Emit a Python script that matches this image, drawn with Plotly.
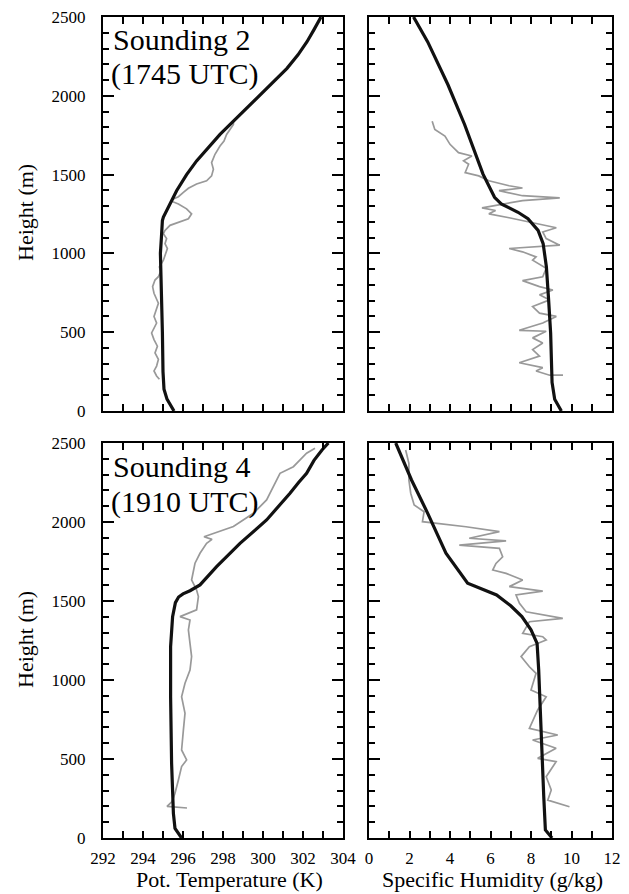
import plotly.graph_objects as go

W, H = 629, 894
OFF = 8               # page body margin of the html page
FW, FH = W - OFF, H - OFF
FONT = "Liberation Serif, Times New Roman, serif"

# ---------------- data ----------------
# Sounding 2 (top row)
s2_theta_model_h = [0, 40, 75, 138, 250, 500, 700, 850, 1000, 1100, 1209, 1230, 1300, 1398, 1500, 1587, 1755, 1860, 1965, 2070, 2174, 2260, 2343, 2420, 2500]
s2_theta_model = [295.55, 295.35, 295.2, 295.05, 295.0, 294.97, 294.92, 294.87, 294.87, 294.92, 294.97, 295.02, 295.3, 295.68, 296.18, 296.68, 297.85, 298.68, 299.5, 300.38, 301.2, 301.75, 302.2, 302.55, 302.9]

s2_theta_obs_h = [201, 222, 254, 285, 327, 369, 411, 453, 495, 516, 558, 600, 642, 684, 747, 789, 831, 852, 884, 915, 957, 989, 1031, 1062, 1094, 1125, 1146, 1178, 1199, 1220, 1251, 1283, 1314, 1331, 1345, 1360, 1387, 1413, 1440, 1461, 1492, 1534, 1576, 1629, 1681, 1713, 1755, 1786, 1818, 1843]
s2_theta_obs = [294.82, 294.68, 294.55, 294.68, 294.77, 294.60, 294.72, 294.55, 294.43, 294.52, 294.68, 294.55, 294.65, 294.77, 294.55, 294.48, 294.60, 294.77, 294.88, 294.82, 295.02, 295.10, 295.22, 295.10, 295.18, 295.02, 295.10, 295.35, 295.85, 296.27, 296.43, 296.18, 295.77, 295.43, 295.52, 295.77, 296.02, 296.27, 296.68, 297.18, 297.43, 297.52, 297.43, 297.60, 297.85, 298.05, 298.18, 298.35, 298.52, 298.52]

s2_q_model_h = [0, 75, 181, 495, 705, 915, 1062, 1146, 1220, 1261, 1314, 1356, 1503, 1650, 1818, 2070, 2342, 2500]
s2_q_model = [9.5, 9.17, 9.04, 8.97, 8.87, 8.76, 8.6, 8.35, 7.85, 7.36, 6.53, 6.2, 5.63, 5.21, 4.72, 3.9, 2.9, 2.2]

s2_q_obs_h = [1839, 1786, 1744, 1692, 1639, 1618, 1587, 1566, 1513, 1492, 1461, 1429, 1415, 1398, 1366, 1352, 1335, 1314, 1289, 1272, 1251, 1226, 1199, 1178, 1163, 1136, 1094, 1052, 1031, 1010, 978, 957, 905, 852, 827, 789, 768, 737, 705, 663, 621, 600, 558, 512, 506, 464, 432, 390, 348, 306, 275, 254, 227, 227]
s2_q_obs = [3.12, 3.25, 3.75, 4.0, 4.42, 5.08, 4.67, 4.92, 4.75, 5.42, 5.92, 6.92, 7.58, 6.42, 7.58, 9.42, 7.58, 6.75, 5.58, 6.25, 5.92, 6.92, 7.92, 8.58, 9.25, 8.58, 8.75, 9.42, 6.92, 7.58, 8.25, 8.08, 8.75, 8.58, 7.58, 8.42, 9.08, 8.42, 8.92, 8.08, 8.42, 9.25, 8.58, 7.42, 8.75, 8.08, 8.58, 8.08, 8.42, 7.42, 8.58, 8.25, 8.92, 9.58]

# Sounding 4 (bottom row)
s4_theta_model_h = [0, 61, 156, 473, 894, 1211, 1401, 1490, 1525, 1545, 1565, 1602, 1717, 1865, 2013, 2100, 2182, 2250, 2308, 2390, 2456, 2500]
s4_theta_model = [295.93, 295.6, 295.52, 295.43, 295.38, 295.38, 295.48, 295.62, 295.78, 296.0, 296.35, 296.85, 297.68, 298.85, 300.18, 300.8, 301.35, 301.78, 302.18, 302.55, 302.95, 303.27]

s4_theta_obs_h = [190, 200, 230, 283, 367, 452, 494, 557, 684, 789, 894, 979, 1063, 1148, 1232, 1317, 1380, 1401, 1444, 1528, 1570, 1633, 1739, 1802, 1865, 1890, 1907, 1928, 1971, 2055, 2140, 2308, 2350, 2435, 2467]
s4_theta_obs = [296.2, 295.2, 295.45, 295.6, 295.77, 295.93, 296.18, 295.93, 296.02, 296.1, 295.93, 296.1, 296.35, 296.43, 296.35, 296.27, 296.35, 295.85, 296.68, 296.77, 296.68, 296.43, 296.6, 296.85, 297.18, 297.45, 297.05, 297.52, 298.52, 299.52, 300.18, 300.85, 301.52, 302.18, 302.6]

s4_q_model_h = [0, 51, 261, 684, 1063, 1232, 1317, 1401, 1470, 1538, 1612, 1802, 2055, 2266, 2500]
s4_q_model = [9.04, 8.71, 8.63, 8.51, 8.38, 8.3, 8.0, 7.55, 7.0, 6.3, 4.87, 3.8, 2.9, 2.1, 1.32]

s4_q_obs_h = [2456, 2371, 2266, 2182, 2108, 2065, 2002, 1992, 1970, 1939, 1897, 1880, 1854, 1833, 1780, 1738, 1696, 1675, 1633, 1591, 1563, 1538, 1485, 1432, 1390, 1369, 1295, 1274, 1253, 1211, 1148, 1084, 1042, 937, 894, 810, 694, 652, 620, 568, 504, 483, 388, 304, 240, 198]
s4_q_obs = [1.81, 1.97, 1.97, 2.06, 2.23, 2.72, 2.64, 3.30, 4.79, 6.44, 4.95, 6.77, 4.46, 6.44, 6.60, 6.27, 6.11, 6.77, 7.59, 6.93, 8.58, 7.26, 7.43, 7.76, 9.57, 7.92, 7.59, 8.58, 8.75, 7.92, 7.51, 7.92, 8.25, 8.0, 8.75, 8.33, 7.92, 9.32, 8.08, 9.24, 8.33, 9.24, 8.75, 9.0, 8.83, 9.90]

theta_ticks = [292, 294, 296, 298, 300, 302, 304]
q_ticks = [0, 2, 4, 6, 8, 10, 12]
h_ticks = [0, 500, 1000, 1500, 2000, 2500]

labels = [("Sounding 2", "(1745 UTC)"), ("Sounding 4", "(1910 UTC)")]
xtitles = ["Pot. Temperature (K)", "Specific Humidity (g/kg)"]
ytitle = "Height (m)"

# ---------------- layout helpers (page pixel -> paper fraction) ----------------
def px(x):
    return (x - OFF) / FW

def py(y):
    return 1 - (y - OFF) / FH

LEFT_X = [px(103), px(343)]
RIGHT_X = [px(369), px(612)]
TOP_Y = [py(411), py(17)]
BOT_Y = [py(838), py(443)]

OBS_COLOR = "#999999"
MOD_COLOR = "#111111"

fig = go.Figure()

panels = [
    ("x", "y", s4_theta_obs, s4_theta_obs_h, s4_theta_model, s4_theta_model_h),
    ("x2", "y2", s4_q_obs, s4_q_obs_h, s4_q_model, s4_q_model_h),
    ("x3", "y3", s2_theta_obs, s2_theta_obs_h, s2_theta_model, s2_theta_model_h),
    ("x4", "y4", s2_q_obs, s2_q_obs_h, s2_q_model, s2_q_model_h),
]
for xa, ya, ox, oh, mx, mh in panels:
    fig.add_trace(go.Scatter(x=ox, y=oh, mode="lines", xaxis=xa, yaxis=ya,
                             line=dict(color=OBS_COLOR, width=1.7), showlegend=False, hoverinfo="skip"))
    fig.add_trace(go.Scatter(x=mx, y=mh, mode="lines", xaxis=xa, yaxis=ya,
                             line=dict(color=MOD_COLOR, width=3.2),
                             showlegend=False, hoverinfo="skip"))

tickfont = dict(family=FONT, size=17, color="black")

def xax(domain, rng, tickvals, anchor, labels_on):
    return dict(domain=domain, range=rng, anchor=anchor, showgrid=False, zeroline=False,
                automargin=False, ticklabeloverflow="allow",
                showline=True, linewidth=2, linecolor="black", mirror="ticks",
                ticks="inside", ticklen=7, tickwidth=1.5, tickcolor="black",
                tickmode="array", tickvals=tickvals, ticktext=[str(v) for v in tickvals],
                showticklabels=labels_on, tickfont=tickfont, ticklabelstandoff=4,
                minor=dict(dtick=1, tick0=0, ticks="inside", ticklen=7, tickwidth=1.5,
                           tickcolor="black", showgrid=False))

def yax(domain, anchor, labels_on):
    return dict(domain=domain, range=[0, 2500], anchor=anchor, showgrid=False, zeroline=False,
                automargin=False, ticklabeloverflow="allow",
                showline=True, linewidth=2, linecolor="black", mirror="ticks",
                ticks="inside", ticklen=11, tickwidth=1.5, tickcolor="black",
                tickmode="array", tickvals=h_ticks, ticktext=[str(v) for v in h_ticks],
                showticklabels=labels_on, tickfont=tickfont, ticklabelstandoff=12,
                minor=dict(dtick=100, tick0=0, ticks="inside", ticklen=6, tickwidth=1.5,
                           tickcolor="black", showgrid=False))

annotations = []
for (l1, l2), ytop in zip(labels, [15, 443]):
    annotations.append(dict(text=l1, x=px(111), y=py(ytop + 24), xref="paper", yref="paper",
                            xanchor="left", yanchor="middle", showarrow=False,
                            font=dict(family=FONT, size=30, color="black")))
    annotations.append(dict(text=l2, x=px(109), y=py(ytop + 59), xref="paper", yref="paper",
                            xanchor="left", yanchor="middle", showarrow=False,
                            font=dict(family=FONT, size=30, color="black")))
for yc in [213, 640]:
    annotations.append(dict(text=ytitle, x=px(25), y=py(yc), xref="paper", yref="paper",
                            xanchor="center", yanchor="middle", textangle=-90, showarrow=False,
                            font=dict(family=FONT, size=22, color="black")))
for t, xc in zip(xtitles, [229, 492]):
    annotations.append(dict(text=t, x=px(xc), y=py(879), xref="paper", yref="paper",
                            xanchor="center", yanchor="middle", showarrow=False,
                            font=dict(family=FONT, size=22, color="black")))

fig.update_layout(
    width=FW, height=FH, autosize=False,
    margin=dict(l=0, r=0, t=0, b=0),
    paper_bgcolor="white", plot_bgcolor="white",
    font=dict(family=FONT, color="black"),
    xaxis=xax(LEFT_X, [292, 304], theta_ticks, "y", True),
    yaxis=yax(BOT_Y, "x", True),
    xaxis2=xax(RIGHT_X, [0, 12], q_ticks, "y2", True),
    yaxis2=yax(BOT_Y, "x2", False),
    xaxis3=xax(LEFT_X, [292, 304], theta_ticks, "y3", False),
    yaxis3=yax(TOP_Y, "x3", True),
    xaxis4=xax(RIGHT_X, [0, 12], q_ticks, "y4", False),
    yaxis4=yax(TOP_Y, "x4", False),
    annotations=annotations,
)

fig.write_html("out.html")
